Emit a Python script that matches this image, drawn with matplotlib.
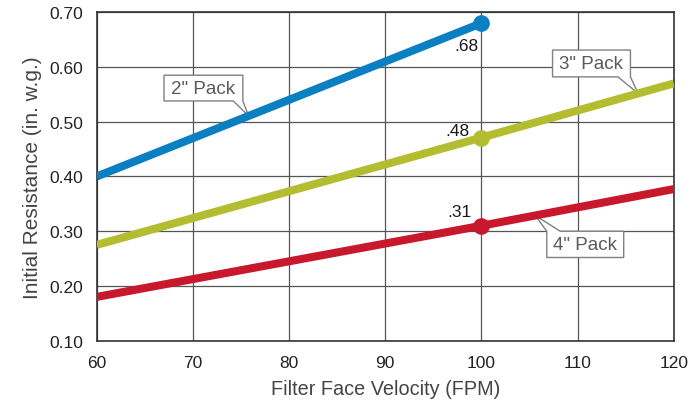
import numpy as np
import matplotlib.pyplot as plt
from matplotlib.patches import Polygon

plt.rcParams['font.family'] = ['Liberation Sans', 'DejaVu Sans']

# data
velocity = [60, 100, 120]
pack2 = [0.40, 0.68]
pack3 = [0.275, 0.471, 0.570]
pack4 = [0.180, 0.310, 0.377]
marks = {"2": (100, 0.68, ".68"), "3": (100, 0.471, ".48"), "4": (100, 0.310, ".31")}

blue = "#0a7fc1"
green = "#b4bd30"
red = "#c8182e"

fig = plt.figure(figsize=(6.97, 4.02), dpi=100)
ax = fig.add_axes([0.1387, 0.150, 0.8279, 0.817])

ax.plot(velocity[:2], pack2, color=blue, lw=5.8, solid_capstyle="butt", zorder=3)
ax.plot(velocity, pack3, color=green, lw=5.8, solid_capstyle="butt", zorder=3)
ax.plot(velocity, pack4, color=red, lw=5.8, solid_capstyle="butt", zorder=3)

ax.plot(*marks["2"][:2], "o", color=blue, ms=11, zorder=4, clip_on=False)
ax.plot(*marks["3"][:2], "o", color=green, ms=11, zorder=4)
ax.plot(*marks["4"][:2], "o", color=red, ms=11, zorder=4)

num_style = dict(textcoords="offset points", ha="center", va="center",
                 fontsize=12.5, color="#1a1a1a")
ax.annotate(marks["2"][2], marks["2"][:2], xytext=(-11, -16), **num_style)
ax.annotate(marks["3"][2], marks["3"][:2], xytext=(-17, 5), **num_style)
ax.annotate(marks["4"][2], marks["4"][:2], xytext=(-16, 10), **num_style)


def callout(label, x0, x1, y0, y1, b0, b1, tip_x, sx, sy, side):
    tip_y = np.interp(tip_x, sx, sy)
    if side == "bottom":
        pts = [(x0, y1), (x1, y1), (x1, y0), (b1, y0), (tip_x, tip_y), (b0, y0), (x0, y0)]
    else:
        pts = [(x0, y0), (x0, y1), (b0, y1), (tip_x, tip_y), (b1, y1), (x1, y1), (x1, y0)]
    ax.add_patch(Polygon(pts, closed=True, fc="white", ec="#808080", lw=1.0, zorder=2.5))
    ax.text((x0 + x1) / 2, (y0 + y1) / 2, label, ha="center", va="center",
            fontsize=13.5, color="#5a5a5a", zorder=2.6)


callout('2" Pack', 67.0, 75.2, 0.538, 0.585, 74.2, 75.2, 75.8, velocity[:2], pack2, "bottom")
callout('3" Pack', 107.4, 115.5, 0.582, 0.631, 114.2, 115.5, 116.3, velocity, pack3, "bottom")
callout('4" Pack', 106.8, 114.8, 0.252, 0.300, 106.8, 108.2, 105.6, velocity, pack4, "top")

ax.set_xlim(60, 120)
ax.set_ylim(0.10, 0.70)
ax.set_xticks(np.arange(60, 121, 10))
ax.set_yticks(np.arange(0.10, 0.71, 0.10))
ax.set_yticklabels([f"{v:.2f}" for v in np.arange(0.10, 0.71, 0.10)])
ax.tick_params(length=0, labelsize=12.5, labelcolor="#222")
ax.tick_params(axis="y", pad=10)
ax.tick_params(axis="x", pad=10)
ax.grid(True, color="#555", lw=0.9, zorder=1)
ax.set_axisbelow(True)
for s in ax.spines.values():
    s.set_color("#333")
    s.set_linewidth(1.2)

ax.set_xlabel("Filter Face Velocity (FPM)", fontsize=14.3, color="#444", labelpad=7)
ax.set_ylabel("Initial Resistance (in. w.g.)", fontsize=15, color="#444", labelpad=5)

fig.savefig("out.png", dpi=100)
